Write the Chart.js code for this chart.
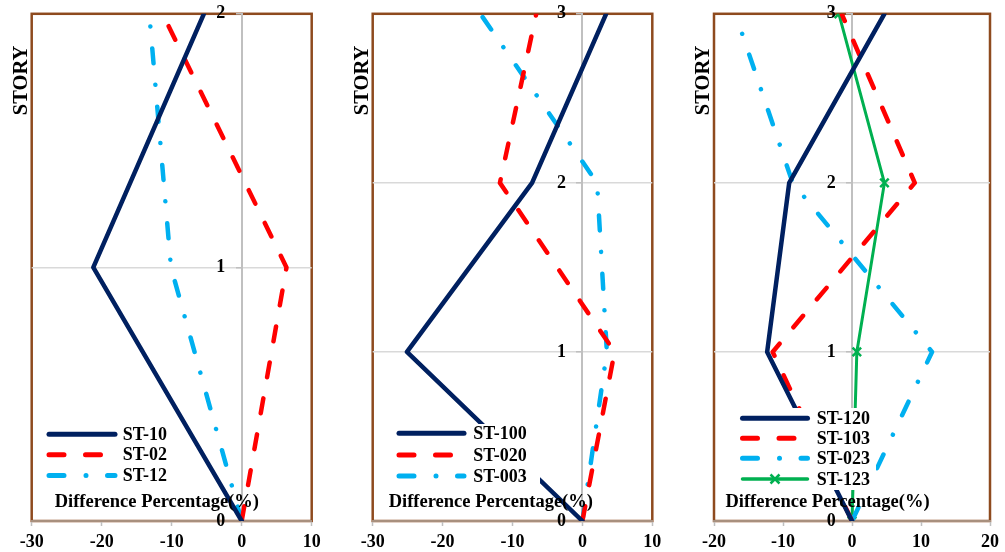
<!DOCTYPE html>
<html>
<head>
<meta charset="utf-8">
<script src="https://cdn.jsdelivr.net/npm/chart.js@4/dist/chart.umd.min.js"></script>
<style>
  html, body { margin: 0; padding: 0; background: #ffffff; }
  #wrap { position: relative; width: 1005px; height: 552px; overflow: hidden; }
  #wrap canvas { position: absolute; left: 0; top: 0; }
</style>
</head>
<body>
<div id="wrap">
  <canvas id="c1" width="1005" height="552"></canvas>
  <canvas id="c2" width="1005" height="552"></canvas>
  <canvas id="c3" width="1005" height="552"></canvas>
</div>
<script>
// ---------------- DATA ----------------
const storiesA = [0, 1, 2];
const storiesB = [0, 1, 2, 3];

// Panel 1 (2 stories)
const labels1 = ['ST-10', 'ST-02', 'ST-12'];
const st10 = [0, -21.2, -5.4];
const st02 = [0, 6.4, -11.3];
const st12 = [0, -10.1, -13.2];

// Panel 2 (3 stories)
const labels2 = ['ST-100', 'ST-020', 'ST-003'];
const st100 = [0, -25.1, -7.2, 3.4];
const st020 = [0, 4.6, -11.8, -6.6];
const st003 = [0, 3.5, 2.1, -14.6];

// Panel 3 (3 stories)
const labels3 = ['ST-120', 'ST-103', 'ST-023', 'ST-123'];
const st120 = [0, -12.3, -9.1, 4.7];
const st103 = [0, -11.5, 9.1, -1.5];
const st023 = [0, 11.6, -8.6, -16.9];
const st123 = [0, 0.7, 4.7, -1.9];

// Axis ranges / tick labels
const xRange12 = [-30, 10];
const xRange3 = [-20, 20];
const xStep = 10;
const yTitle = 'STORY';
const xTitle = 'Difference Percentage(%)';

// ---------------- STYLES ----------------
const NAVY = '#002060', RED = '#FF0000', BLUE = '#00B0F0', GREEN = '#00B050';
const BROWN = '#8E4A1E';
const FONT = 'Liberation Serif, Times New Roman, serif';
const styleSolid = { borderColor: NAVY, borderWidth: 4.5, borderDash: [], borderCapStyle: 'round' };
const styleDash = { borderColor: RED, borderWidth: 4.5, borderDash: [15, 21.5], borderCapStyle: 'round' };
const styleDashDot = { borderColor: BLUE, borderWidth: 4.5, borderDash: [15, 22, 0.01, 21.5], borderCapStyle: 'round' };
const styleMarker = { borderColor: GREEN, borderWidth: 3, borderDash: [], borderCapStyle: 'butt',
  pointStyle: 'crossRot', pointRadius: 6, pointBorderWidth: 2.5, pointBorderColor: GREEN, pointBackgroundColor: GREEN };

function series(label, vals, stories, style) {
  return Object.assign({
    label: label,
    data: stories.map((s, i) => ({ x: vals[i], y: s })),
    showLine: true,
    fill: false,
    tension: 0,
    pointRadius: 0,
    pointHoverRadius: 0,
    borderJoinStyle: 'round'
  }, style);
}

Chart.defaults.font.family = FONT;
Chart.defaults.color = '#000';

// frame + custom legend + titles
const panelPlugin = {
  id: 'panelDeco',
  beforeDraw(chart) {
    const a = chart.chartArea, ctx = chart.ctx;
    ctx.save();
    ctx.strokeStyle = BROWN;
    ctx.lineWidth = 2.5;
    ctx.strokeRect(a.left, a.top, a.right - a.left, a.bottom - a.top);
    ctx.restore();
  },
  afterDatasetsDraw(chart) {
    const o = chart.options.plugins.panelDeco;
    const ctx = chart.ctx;
    ctx.save();
    ctx.fillStyle = '#ffffff';
    ctx.fillRect(o.box[0], o.box[1], o.box[2], o.box[3]);
    chart.data.datasets.forEach((ds, i) => {
      const y = o.rows[i];
      ctx.save();
      ctx.strokeStyle = ds.borderColor;
      ctx.lineWidth = ds.borderWidth + 0.5;
      ctx.lineCap = 'round';
      ctx.setLineDash(ds.borderDash || []);
      ctx.beginPath();
      ctx.moveTo(o.lineX[0], y);
      ctx.lineTo(o.lineX[1], y);
      ctx.stroke();
      ctx.restore();
      if (ds.pointStyle) {
        const cx = (o.lineX[0] + o.lineX[1]) / 2;
        ctx.save();
        ctx.strokeStyle = ds.pointBorderColor;
        ctx.lineWidth = ds.pointBorderWidth;
        ctx.beginPath();
        const r = ds.pointRadius * 0.75;
        ctx.moveTo(cx - r, y - r); ctx.lineTo(cx + r, y + r);
        ctx.moveTo(cx + r, y - r); ctx.lineTo(cx - r, y + r);
        ctx.stroke();
        ctx.restore();
      }
      ctx.fillStyle = '#000';
      ctx.font = 'bold 18px ' + FONT;
      ctx.textAlign = 'left';
      ctx.textBaseline = 'middle';
      ctx.fillText(ds.label, o.textX, y + 1);
    });
    ctx.restore();
  },
  afterDraw(chart) {
    const o = chart.options.plugins.panelDeco;
    const ctx = chart.ctx, a = chart.chartArea;
    ctx.save();
    ctx.fillStyle = '#000';
    ctx.font = 'bold 18.5px ' + FONT;
    ctx.textAlign = 'center';
    ctx.textBaseline = 'alphabetic';
    ctx.fillText(xTitle, o.titleX, 507);
    ctx.translate(a.left - 11, 80.5);
    ctx.rotate(-Math.PI / 2);
    ctx.font = 'bold 20.5px ' + FONT;
    ctx.textBaseline = 'middle';
    ctx.fillText(yTitle, 0, 1);
    ctx.restore();
  }
};

function makeChart(id, datasets, xr, yMax, plotLeft, plotRight, deco) {
  return new Chart(document.getElementById(id), {
    type: 'scatter',
    data: { datasets: datasets },
    plugins: [panelPlugin],
    options: {
      responsive: false,
      animation: false,
      events: [],
      layout: { padding: { left: plotLeft, right: 1005 - plotRight, top: 13, bottom: 0 } },
      plugins: { legend: { display: false }, tooltip: { enabled: false }, panelDeco: deco },
      scales: {
        x: {
          type: 'linear', position: 'bottom', min: xr[0], max: xr[1],
          afterFit: (s) => { s.height = 31; },
          ticks: { stepSize: xStep, padding: 6, font: { size: 18, weight: 'bold' }, color: '#000', maxRotation: 0 },
          grid: { drawOnChartArea: false, drawTicks: true, tickLength: 5, tickColor: '#bfbfbf', tickWidth: 1.5 },
          border: { display: true, color: '#a8907e', width: 2 }
        },
        y: {
          type: 'linear', position: { x: 0 }, min: 0, max: yMax,
          ticks: { stepSize: 1, display: false },
          grid: {
            color: (c) => (c.tick && (c.tick.value === 0 || c.tick.value === yMax)) ? 'rgba(0,0,0,0)' : '#d9d9d9',
            lineWidth: 1.5, drawTicks: true, tickLength: 5, tickColor: '#bfbfbf', tickWidth: 1.5
          },
          border: { display: true, color: '#c0c0c0', width: 2 }
        },
        yl: {
          type: 'linear', axis: 'y', position: { x: -2.35 }, min: 0, max: yMax,
          ticks: { stepSize: 1, font: { size: 18, weight: 'bold' }, color: '#000' },
          grid: { display: false, drawTicks: false },
          border: { display: false }
        }
      }
    }
  });
}

makeChart('c1', [
  series(labels1[0], st10, storiesA, styleSolid),
  series(labels1[1], st02, storiesA, styleDash),
  series(labels1[2], st12, storiesA, styleDashDot)
], xRange12, 2, 31.7, 311.7, {
  box: [40, 424, 132, 62], rows: [434.3, 454.8, 475.5], lineX: [49, 115], textX: 122.7, titleX: 156.8
});

makeChart('c2', [
  series(labels2[0], st100, storiesB, styleSolid),
  series(labels2[1], st020, storiesB, styleDash),
  series(labels2[2], st003, storiesB, styleDashDot)
], xRange12, 3, 372.7, 652.3, {
  box: [390, 424, 150, 63], rows: [433.3, 455, 476], lineX: [399, 464], textX: 473.3, titleX: 490.8
});

makeChart('c3', [
  series(labels3[0], st120, storiesB, styleSolid),
  series(labels3[1], st103, storiesB, styleDash),
  series(labels3[2], st023, storiesB, styleDashDot),
  series(labels3[3], st123, storiesB, styleMarker)
], xRange3, 3, 714, 993.3, {
  box: [733, 408, 143, 82], rows: [418.3, 438.3, 458.3, 479], lineX: [742.5, 807.5], textX: 816.7, titleX: 827.5
});
</script>
</body>
</html>
